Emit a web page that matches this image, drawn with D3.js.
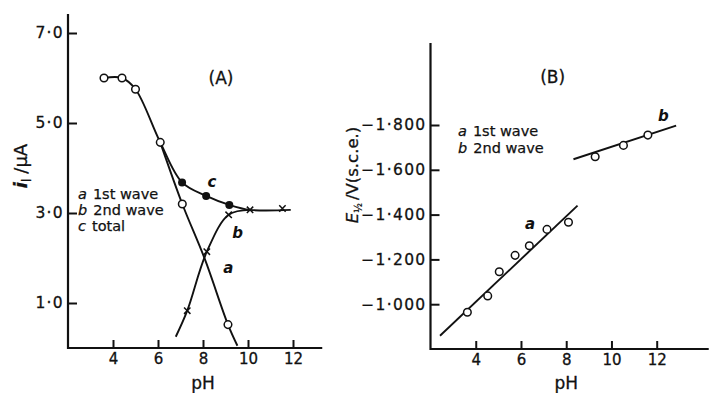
<!DOCTYPE html>
<html><head><meta charset="utf-8">
<script src="https://cdn.jsdelivr.net/npm/d3@7"></script>
<style>
body{margin:0;background:#fff;}
text{font-family:"DejaVu Sans",sans-serif;fill:#111;}
</style></head>
<body><svg id="c" width="710" height="393"></svg>
<script>
// ---- Panel A data (pH, i_l / µA) ----
const aTicksX = [4, 6, 8, 10, 12];
const aTicksY = [1, 3, 5, 7];
const aOpen = [[3.6, 6.0], [4.4, 6.0], [5.0, 5.75], [6.1, 4.57], [7.08, 3.2], [9.11, 0.52]];
const aFilled = [[7.07, 3.68], [8.14, 3.38], [9.17, 3.18]];
const aCross = [[7.3, 0.83], [8.17, 2.14], [9.14, 2.96], [10.09, 3.07], [11.53, 3.1]];
const aCurveTotal = [[3.6, 6.0], [4.4, 6.0], [5.0, 5.75], [6.1, 4.57], [7.07, 3.68], [8.14, 3.38], [9.17, 3.18], [10.1, 3.07], [11.9, 3.07]];
const aCurveA = [[6.1, 4.57], [7.08, 3.2], [8.07, 1.99], [9.11, 0.52], [9.53, 0.05]];
const aCurveB = [[6.79, 0.25], [7.3, 0.83], [8.17, 2.14], [9.14, 2.96], [10.1, 3.07]];
const aLegend = [["a", "1st wave"], ["b", "2nd wave"], ["c", "total"]];

// ---- Panel B data (pH, -E1/2 / V) ----
const bTicksX = [4, 6, 8, 10, 12];
const bTicksY = [1.0, 1.2, 1.4, 1.6, 1.8];
const bPointsA = [[3.63, 0.964], [4.53, 1.037], [5.04, 1.145], [5.74, 1.218], [6.37, 1.261], [7.15, 1.334], [8.10, 1.366]];
const bPointsB = [[9.28, 1.658], [10.53, 1.709], [11.61, 1.755]];
const bLineA = [[2.42, 0.859], [8.50, 1.44]];
const bLineB = [[8.32, 1.647], [12.86, 1.797]];
const bLegend = [["a", "1st wave"], ["b", "2nd wave"]];

const svg = d3.select("#c");
const INK = "#111";
const FONT = "DejaVu Sans, sans-serif";

function drawAxes(g, x, y, xMax, yMax, xt, yt, yfmt) {
  g.append("g").attr("transform", `translate(0,${y(y.domain()[0])})`)
    .call(d3.axisBottom(x).tickValues(xt).tickSize(-8).tickPadding(5).tickFormat(d3.format("d")))
    .call(s => s.select(".domain").remove())
    .call(s => s.selectAll("line").attr("stroke", INK).attr("stroke-width", 2))
    .call(s => s.selectAll("text").attr("font-size", 15).attr("fill", INK).style("font-family", FONT)
      .attr("stroke", INK).attr("stroke-width", 0.3));
  g.append("g").attr("transform", `translate(${x(x.domain()[0])},0)`)
    .call(d3.axisLeft(y).tickValues(yt).tickSize(-9).tickPadding(4).tickFormat(yfmt))
    .call(s => s.select(".domain").remove())
    .call(s => s.selectAll("line").attr("stroke", INK).attr("stroke-width", 2))
    .call(s => s.selectAll("text").attr("font-size", 15.5).attr("fill", INK).style("font-family", FONT)
      .attr("letter-spacing", 1.3).attr("stroke", INK).attr("stroke-width", 0.3));
  const x0 = x(x.domain()[0]), y0 = y(y.domain()[0]);
  g.append("path").attr("d", `M${x0},${y(yMax)}V${y0}H${x(xMax)}`)
    .attr("fill", "none").attr("stroke", INK).attr("stroke-width", 2.2);
}

function legend(g, items, x, y0, dy) {
  items.forEach((d, i) => {
    const t = g.append("text").attr("x", x).attr("y", y0 + i * dy).attr("font-size", 14.5)
      .attr("stroke", INK).attr("stroke-width", 0.25);
    t.append("tspan").attr("font-style", "italic").text(d[0]);
    t.append("tspan").attr("dx", 6).text(d[1]);
  });
}

// ================= Panel A =================
const xA = d3.scaleLinear().domain([2, 12]).range([68, 293]);
const yA = d3.scaleLinear().domain([0, 7]).range([348, 33]);
const gA = svg.append("g");
drawAxes(gA, xA, yA, 13.3, 7.42, aTicksX, aTicksY, d => d.toFixed(1).replace(".", "·"));

const lineA = d3.line().x(d => xA(d[0])).y(d => yA(d[1])).curve(d3.curveCatmullRom.alpha(0.5));
[aCurveTotal, aCurveA, aCurveB].forEach(c =>
  gA.append("path").attr("d", lineA(c)).attr("fill", "none").attr("stroke", INK).attr("stroke-width", 1.9));

gA.selectAll(".op").data(aOpen).join("circle")
  .attr("cx", d => xA(d[0])).attr("cy", d => yA(d[1])).attr("r", 3.8)
  .attr("fill", "#fff").attr("stroke", INK).attr("stroke-width", 1.5);
gA.selectAll(".fp").data(aFilled).join("circle")
  .attr("cx", d => xA(d[0])).attr("cy", d => yA(d[1])).attr("r", 4)
  .attr("fill", INK);
gA.selectAll(".cp").data(aCross).join("path")
  .attr("d", d => { const cx = xA(d[0]), cy = yA(d[1]), s = 3.2;
    return `M${cx-s},${cy-s}L${cx+s},${cy+s}M${cx-s},${cy+s}L${cx+s},${cy-s}`; })
  .attr("stroke", INK).attr("stroke-width", 1.5);

gA.append("text").attr("x", xA(8.8)).attr("y", yA(5.99) + 6).attr("text-anchor", "middle")
  .attr("font-size", 17).attr("stroke", INK).attr("stroke-width", 0.3).text("(A)");
gA.append("text").attr("x", xA(8.2)).attr("y", yA(3.68) + 5).attr("font-size", 15)
  .attr("font-style", "italic").attr("font-weight", "bold").text("c");
gA.append("text").attr("x", xA(9.3)).attr("y", yA(2.56) + 5).attr("font-size", 15)
  .attr("font-style", "italic").attr("font-weight", "bold").text("b");
gA.append("text").attr("x", xA(8.9)).attr("y", yA(1.77) + 5).attr("font-size", 15)
  .attr("font-style", "italic").attr("font-weight", "bold").text("a");

legend(gA, aLegend, 78, 199, 16);

gA.append("text").attr("x", xA(8)).attr("y", 389).attr("text-anchor", "middle").attr("font-size", 17)
  .attr("stroke", INK).attr("stroke-width", 0.3).text("pH");

const ylA = gA.append("text").attr("transform", "translate(27,166) rotate(-90)")
  .attr("text-anchor", "middle").attr("font-size", 18).attr("stroke", INK).attr("stroke-width", 0.3);
ylA.append("tspan").attr("font-style", "italic").attr("font-weight", "bold").text("i");
ylA.append("tspan").attr("font-size", 12).attr("dy", 4).text("l");
ylA.append("tspan").attr("dy", -4).attr("dx", 5).text("/μA");

// ================= Panel B =================
const xB = d3.scaleLinear().domain([2, 12]).range([430.5, 656.7]);
const yB = d3.scaleLinear().domain([0.8, 1.8]).range([349, 125]);
const gB = svg.append("g");
drawAxes(gB, xB, yB, 14.3, 2.166, bTicksX, bTicksY, d => "−" + d.toFixed(3).replace(".", "·"));

const lineB = d3.line().x(d => xB(d[0])).y(d => yB(d[1]));
[bLineA, bLineB].forEach(c =>
  gB.append("path").attr("d", lineB(c)).attr("fill", "none").attr("stroke", INK).attr("stroke-width", 1.9));
gB.selectAll(".pt").data(bPointsA.concat(bPointsB)).join("circle")
  .attr("cx", d => xB(d[0])).attr("cy", d => yB(d[1])).attr("r", 3.8)
  .attr("fill", "#fff").attr("stroke", INK).attr("stroke-width", 1.5);

gB.append("text").attr("x", xB(7.4)).attr("y", 83).attr("text-anchor", "middle")
  .attr("font-size", 17).attr("stroke", INK).attr("stroke-width", 0.3).text("(B)");
gB.append("text").attr("x", xB(6.4)).attr("y", yB(1.36) + 5).attr("text-anchor", "middle").attr("font-size", 15)
  .attr("font-style", "italic").attr("font-weight", "bold").text("a");
gB.append("text").attr("x", xB(12.3)).attr("y", yB(1.84) + 5).attr("text-anchor", "middle").attr("font-size", 15)
  .attr("font-style", "italic").attr("font-weight", "bold").text("b");

legend(gB, bLegend, 458, 136, 17);

gB.append("text").attr("x", xB(8)).attr("y", 389).attr("text-anchor", "middle").attr("font-size", 17)
  .attr("stroke", INK).attr("stroke-width", 0.3).text("pH");

const ylB = gB.append("text").attr("transform", "translate(358,175) rotate(-90)")
  .attr("text-anchor", "middle").attr("font-size", 16.5).attr("stroke", INK).attr("stroke-width", 0.3);
ylB.append("tspan").attr("font-style", "italic").text("E");
ylB.append("tspan").attr("font-size", 10).attr("dy", 4).text("½");
ylB.append("tspan").attr("dy", -4).attr("dx", 3).text("/V(s.c.e.)");
</script></body></html>
